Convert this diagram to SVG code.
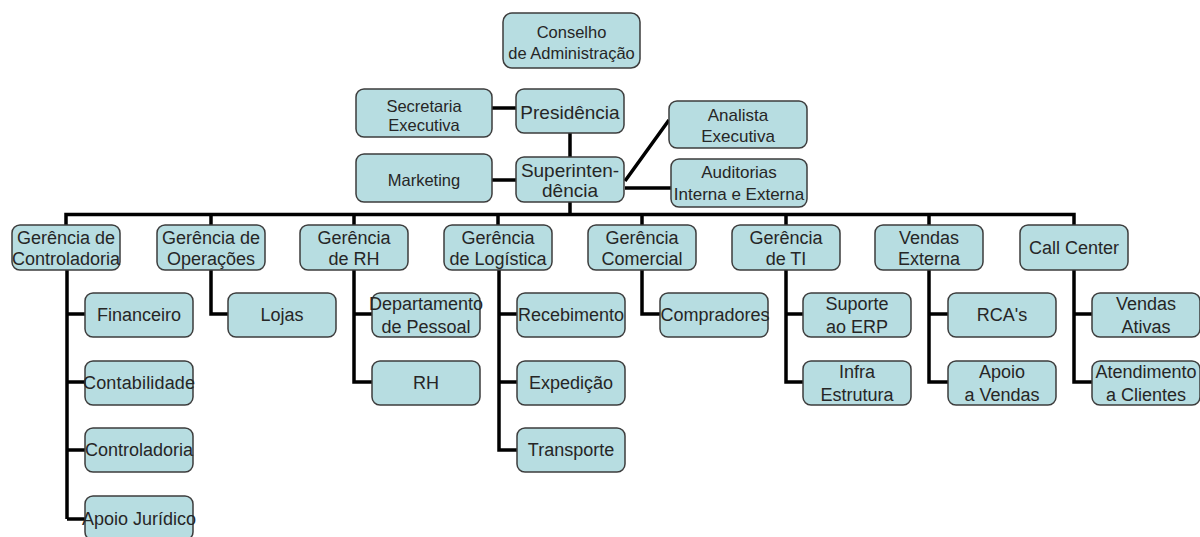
<svg xmlns="http://www.w3.org/2000/svg" width="1200" height="537" viewBox="0 0 1200 537">
<style>
.box{fill:#b7dde1;stroke:#3d3d3d;stroke-width:1.5}
.t{font-family:"Liberation Sans",Arial,sans-serif;font-size:18px;fill:#262626;text-anchor:middle}
.s{font-size:16.5px}
.m{font-size:17px}
.b{font-size:19px}
.c{fill:none;stroke:#000;stroke-width:3.5;stroke-linecap:butt}
</style>
<defs>
<rect id="r108" class="box" width="108" height="44" rx="8"/>
</defs>
<rect width="1200" height="537" fill="#fff"/>
<g id="connectors">
<path class="c" d="M492 108H516M570 133V157M492 180H516M625 181L669 120M625 188H671M570 202V214.5"/>
<path class="c" d="M66 225V214.5H1074V225M211 214.5V225M354 214.5V225M498 214.5V225M642 214.5V225M786 214.5V225M929 214.5V225"/>
<path class="c" d="M67 270V519M67 314H85M67 382H85M67 450H85M67 519H85"/>
<path class="c" d="M211 270V314H228"/>
<path class="c" d="M354 270V382H372M354 314H372"/>
<path class="c" d="M499 270V450H517M499 314H517M499 382H517"/>
<path class="c" d="M642 270V314H660"/>
<path class="c" d="M786 270V382H803M786 314H803"/>
<path class="c" d="M929 270V382H948M929 314H948"/>
<path class="c" d="M1074 270V382H1092M1074 314H1092"/>
</g>
<g id="conselho"><rect class="box" x="503" y="13" width="137" height="55" rx="9"/><text class="t s" x="571.5" y="37.5">Conselho</text><text class="t s" x="571.5" y="59">de Administração</text></g>
<g id="secretaria"><rect class="box" x="356" y="89" width="136" height="48" rx="8"/><text class="t s" x="424" y="111.5">Secretaria</text><text class="t s" x="424" y="130.5">Executiva</text></g>
<g id="presidencia"><rect class="box" x="516" y="89" width="108" height="44" rx="8"/><text class="t b" x="570" y="119">Presidência</text></g>
<g id="analista"><rect class="box" x="669" y="101" width="138" height="47" rx="8"/><text class="t m" x="738" y="120.5">Analista</text><text class="t m" x="738" y="141.5">Executiva</text></g>
<g id="marketing"><rect class="box" x="356" y="154" width="136" height="48" rx="8"/><text class="t s" x="424" y="185.5">Marketing</text></g>
<g id="superintendencia"><rect class="box" x="516" y="157" width="108" height="45" rx="8"/><text class="t b" x="570" y="177">Superinten-</text><text class="t b" x="570" y="197">dência</text></g>
<g id="auditorias"><rect class="box" x="671" y="159" width="136" height="48" rx="8"/><text class="t m" x="739" y="177.5">Auditorias</text><text class="t m" x="739" y="199.5">Interna e Externa</text></g>

<g id="ger-controladoria"><rect class="box" x="12" y="225" width="108" height="45" rx="8"/><text class="t" x="66" y="244">Gerência de</text><text class="t" x="66" y="265">Controladoria</text></g>
<g id="ger-operacoes"><rect class="box" x="157" y="225" width="108" height="45" rx="8"/><text class="t" x="211" y="244">Gerência de</text><text class="t" x="211" y="265">Operações</text></g>
<g id="ger-rh"><rect class="box" x="300" y="225" width="108" height="45" rx="8"/><text class="t" x="354" y="244">Gerência</text><text class="t" x="354" y="265">de RH</text></g>
<g id="ger-logistica"><rect class="box" x="444" y="225" width="108" height="45" rx="8"/><text class="t" x="498" y="244">Gerência</text><text class="t" x="498" y="265">de Logística</text></g>
<g id="ger-comercial"><rect class="box" x="588" y="225" width="108" height="45" rx="8"/><text class="t" x="642" y="244">Gerência</text><text class="t" x="642" y="265">Comercial</text></g>
<g id="ger-ti"><rect class="box" x="732" y="225" width="108" height="45" rx="8"/><text class="t" x="786" y="244">Gerência</text><text class="t" x="786" y="265">de TI</text></g>
<g id="vendas-externa"><rect class="box" x="875" y="225" width="108" height="45" rx="8"/><text class="t" x="929" y="244">Vendas</text><text class="t" x="929" y="265">Externa</text></g>
<g id="call-center"><rect class="box" x="1020" y="225" width="108" height="45" rx="8"/><text class="t" x="1074" y="254">Call Center</text></g>

<g id="financeiro"><use href="#r108" x="85" y="293"/><text class="t" x="139" y="321">Financeiro</text></g>
<g id="contabilidade"><use href="#r108" x="85" y="361"/><text class="t" x="139" y="389" textLength="112">Contabilidade</text></g>
<g id="controladoria"><use href="#r108" x="85" y="428"/><text class="t" x="139" y="456">Controladoria</text></g>
<g id="apoio-juridico"><use href="#r108" x="85" y="496"/><text class="t" x="139" y="525">Apoio Jurídico</text></g>
<g id="lojas"><use href="#r108" x="228" y="293"/><text class="t" x="282" y="321">Lojas</text></g>
<g id="dep-pessoal"><use href="#r108" x="372" y="293"/><text class="t" x="426" y="310">Departamento</text><text class="t" x="426" y="333">de Pessoal</text></g>
<g id="rh"><use href="#r108" x="372" y="361"/><text class="t" x="426" y="389">RH</text></g>
<g id="recebimento"><use href="#r108" x="517" y="293"/><text class="t" x="571" y="321">Recebimento</text></g>
<g id="expedicao"><use href="#r108" x="517" y="361"/><text class="t" x="571" y="389">Expedição</text></g>
<g id="transporte"><use href="#r108" x="517" y="428"/><text class="t" x="571" y="456">Transporte</text></g>
<g id="compradores"><use href="#r108" x="660" y="293"/><text class="t" x="715" y="321">Compradores</text></g>
<g id="suporte-erp"><use href="#r108" x="803" y="293"/><text class="t" x="857" y="310">Suporte</text><text class="t" x="857" y="333">ao ERP</text></g>
<g id="infra"><use href="#r108" x="803" y="361"/><text class="t" x="857" y="378">Infra</text><text class="t" x="857" y="401">Estrutura</text></g>
<g id="rcas"><use href="#r108" x="948" y="293"/><text class="t" x="1002" y="321">RCA's</text></g>
<g id="apoio-vendas"><use href="#r108" x="948" y="361"/><text class="t" x="1002" y="378">Apoio</text><text class="t" x="1002" y="401">a Vendas</text></g>
<g id="vendas-ativas"><use href="#r108" x="1092" y="293"/><text class="t" x="1146" y="310">Vendas</text><text class="t" x="1146" y="333">Ativas</text></g>
<g id="atendimento"><use href="#r108" x="1092" y="361"/><text class="t" x="1146" y="378">Atendimento</text><text class="t" x="1146" y="401">a Clientes</text></g>
</svg>
